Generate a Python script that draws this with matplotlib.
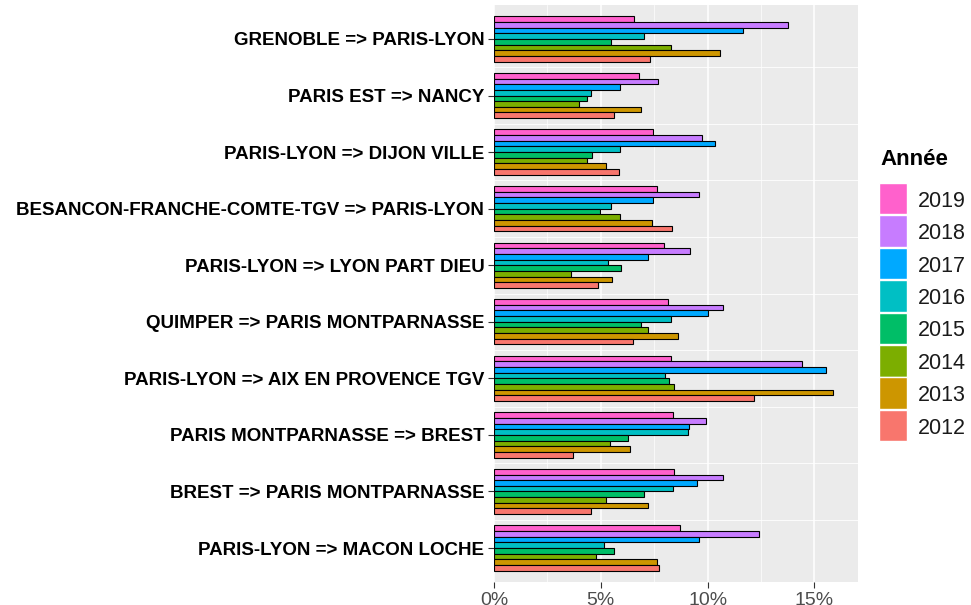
import matplotlib
matplotlib.use("Agg")
import matplotlib.pyplot as plt
import numpy as np
from matplotlib.ticker import FuncFormatter, MultipleLocator
from matplotlib.patches import Rectangle

plt.rcParams['font.family'] = ['Liberation Sans', 'DejaVu Sans']

routes = [
    "GRENOBLE => PARIS-LYON",
    "PARIS EST => NANCY",
    "PARIS-LYON => DIJON VILLE",
    "BESANCON-FRANCHE-COMTE-TGV => PARIS-LYON",
    "PARIS-LYON => LYON PART DIEU",
    "QUIMPER => PARIS MONTPARNASSE",
    "PARIS-LYON => AIX EN PROVENCE TGV",
    "PARIS MONTPARNASSE => BREST",
    "BREST => PARIS MONTPARNASSE",
    "PARIS-LYON => MACON LOCHE",
]
years = ["2019", "2018", "2017", "2016", "2015", "2014", "2013", "2012"]
colors = ["#FF61CC", "#C77CFF", "#00A9FF", "#00BFC4", "#00BE67", "#7CAE00", "#CD9600", "#F8766D"]

# values in percent, per year, in route order
v2019 = [6.56, 6.77, 7.45, 7.64, 7.97, 8.16, 8.27, 8.38, 8.44, 8.72]
v2018 = [13.75, 7.69, 9.75, 9.58, 9.19, 10.70, 14.42, 9.94, 10.72, 12.41]
v2017 = [11.67, 5.92, 10.33, 7.45, 7.22, 10.02, 15.52, 9.14, 9.48, 9.61]
v2016 = [7.02, 4.56, 5.91, 5.48, 5.33, 8.30, 8.02, 9.09, 8.39, 5.16]
v2015 = [5.50, 4.36, 4.59, 4.97, 5.94, 6.88, 8.17, 6.25, 7.00, 5.64]
v2014 = [8.27, 3.98, 4.36, 5.92, 3.61, 7.22, 8.44, 5.41, 5.25, 4.77]
v2013 = [10.60, 6.86, 5.23, 7.39, 5.53, 8.63, 15.88, 6.38, 7.22, 7.63]
v2012 = [7.28, 5.63, 5.86, 8.34, 4.88, 6.52, 12.16, 3.70, 4.52, 7.73]
series = [v2019, v2018, v2017, v2016, v2015, v2014, v2013, v2012]

W, H = 971, 605
fig = plt.figure(figsize=(W/100, H/100), dpi=100)
ax = fig.add_axes([494/W, 1-582/H, (858-494)/W, (582-5)/H])
ax.set_facecolor("#EBEBEB")

n = len(routes)
centers = np.arange(n)[::-1].astype(float)  # first route on top
width = 0.8
bw = width / len(years)
for i, (yr, vals, c) in enumerate(zip(years, series, colors)):
    pos = centers + width/2 - bw/2 - i*bw
    ax.barh(pos, np.array(vals)/100, height=bw, color=c, edgecolor="black",
            linewidth=0.8, zorder=3)

ax.set_xlim(0, 0.1704)
ax.set_ylim(-0.6, n-1+0.6)
ax.xaxis.set_major_locator(MultipleLocator(0.05))
ax.xaxis.set_minor_locator(MultipleLocator(0.025))
ax.xaxis.set_major_formatter(FuncFormatter(lambda x, p: f"{x*100:.0f}%"))
ax.set_yticks(centers)
ax.set_yticks(centers[:-1] - 0.5, minor=True)
ax.set_yticklabels(routes, fontsize=13.5, fontweight="bold", color="black")
ax.grid(which="major", axis="x", color="white", linewidth=1.1, zorder=1)
ax.grid(which="minor", axis="x", color="white", linewidth=0.5, zorder=1)
ax.grid(which="minor", axis="y", color="white", linewidth=0.6, zorder=1)
for s in ax.spines.values():
    s.set_visible(False)
ax.tick_params(axis="x", which="major", labelsize=14, colors="#333333", length=4,
               width=0.8, labelcolor="#4D4D4D", pad=3.5)
ax.tick_params(axis="x", which="minor", length=0)
ax.tick_params(axis="y", which="minor", length=0)
ax.tick_params(axis="y", which="major", length=4, width=0.8, color="#333333", pad=3)

# legend drawn manually (ggplot-style keys)
fig.text(880/W, 1-149/H, "Année", fontsize=16, fontweight="bold",
         ha="left", va="top")
key_top, key_step, key_h, key_w, key_x = 183, 32.4, 31.5, 28, 879
for i, (yr, c) in enumerate(zip(years, colors)):
    top = key_top + i*key_step
    fig.add_artist(Rectangle((key_x/W, 1-(top+key_h)/H), key_w/W, key_h/H,
                             transform=fig.transFigure, facecolor=c,
                             edgecolor="white", linewidth=1.0))
    fig.text(918/W, 1-(top+key_h/2)/H, yr, fontsize=15.5, ha="left",
             va="center_baseline", color="#1A1A1A")

fig.savefig("out.png", dpi=100)
